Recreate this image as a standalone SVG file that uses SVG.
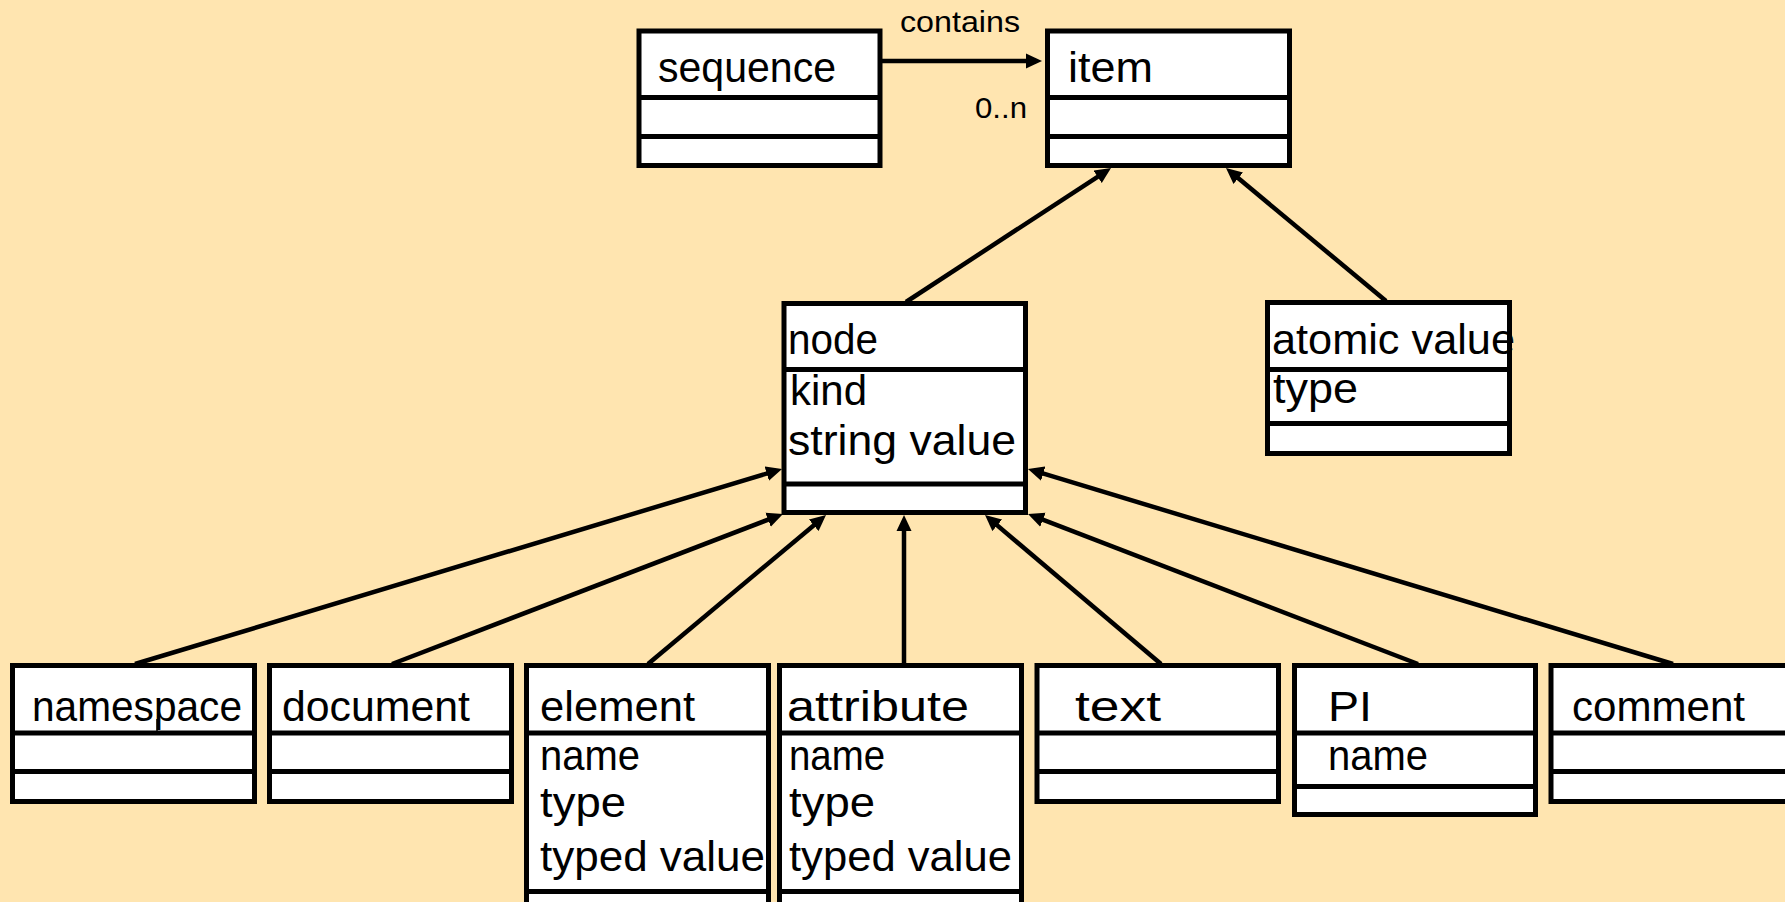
<svg xmlns="http://www.w3.org/2000/svg" width="1785" height="902" viewBox="0 0 1785 902">
<defs>
<style>
.box{fill:#fff;stroke:#000;stroke-width:5}
.div{stroke:#000;stroke-width:5}
.t{font-family:"Liberation Sans",Arial,sans-serif;font-size:43px;fill:#000}
.s{font-family:"Liberation Sans",Arial,sans-serif;font-size:30px;fill:#000}
.c{stroke:#000;stroke-width:4.5;fill:none;marker-end:url(#ah)}
</style>
<marker id="ah" markerUnits="userSpaceOnUse" markerWidth="16" markerHeight="16" refX="10" refY="7.5" orient="auto" viewBox="0 0 16 15">
<path d="M0,0 L16,7.5 L0,15 z" fill="#000"/>
</marker>
</defs>
<rect width="1785" height="902" fill="#FFE5B0"/>

<g id="sequence">
<rect class="box" x="639" y="31" width="241" height="134.5"/>
<line class="div" x1="639" y1="97.5" x2="880" y2="97.5"/>
<line class="div" x1="639" y1="136.5" x2="880" y2="136.5"/>
<text class="t" x="658" y="82" textLength="178" lengthAdjust="spacingAndGlyphs">sequence</text>
</g>

<g id="item">
<rect class="box" x="1047.5" y="31" width="242" height="134.5"/>
<line class="div" x1="1047.5" y1="97.5" x2="1289.5" y2="97.5"/>
<line class="div" x1="1047.5" y1="136.5" x2="1289.5" y2="136.5"/>
<text class="t" x="1068" y="82" textLength="85" lengthAdjust="spacingAndGlyphs">item</text>
</g>

<g id="node">
<rect class="box" x="784" y="303.5" width="241.5" height="209"/>
<line class="div" x1="784" y1="369.5" x2="1025.5" y2="369.5"/>
<line class="div" x1="784" y1="484" x2="1025.5" y2="484"/>
<text class="t" x="788" y="354" textLength="90" lengthAdjust="spacingAndGlyphs">node</text>
<text class="t" x="790" y="405" textLength="77" lengthAdjust="spacingAndGlyphs">kind</text>
<text class="t" x="788" y="455" textLength="228" lengthAdjust="spacingAndGlyphs">string value</text>
</g>

<g id="atomic-value">
<rect class="box" x="1267.5" y="302.5" width="242" height="151"/>
<line class="div" x1="1267.5" y1="369.5" x2="1509.5" y2="369.5"/>
<line class="div" x1="1267.5" y1="423.5" x2="1509.5" y2="423.5"/>
<text class="t" x="1272" y="354" textLength="243" lengthAdjust="spacingAndGlyphs">atomic value</text>
<text class="t" x="1273" y="403" textLength="85" lengthAdjust="spacingAndGlyphs">type</text>
</g>

<g id="namespace">
<rect class="box" x="12.5" y="665.5" width="242" height="136"/>
<line class="div" x1="12.5" y1="733" x2="254.5" y2="733"/>
<line class="div" x1="12.5" y1="771.5" x2="254.5" y2="771.5"/>
<line x1="157" y1="719" x2="157" y2="731" stroke="#000" stroke-width="1.5"/>
<text class="t" x="32" y="721" textLength="210" lengthAdjust="spacingAndGlyphs">namespace</text>
</g>

<g id="document">
<rect class="box" x="269.5" y="665.5" width="242" height="136"/>
<line class="div" x1="269.5" y1="733" x2="511.5" y2="733"/>
<line class="div" x1="269.5" y1="771.5" x2="511.5" y2="771.5"/>
<text class="t" x="282" y="721" textLength="188" lengthAdjust="spacingAndGlyphs">document</text>
</g>

<g id="element">
<rect class="box" x="526.5" y="665.5" width="242" height="260"/>
<line class="div" x1="526.5" y1="733" x2="768.5" y2="733"/>
<line class="div" x1="526.5" y1="891.5" x2="768.5" y2="891.5"/>
<text class="t" x="540" y="721" textLength="155" lengthAdjust="spacingAndGlyphs">element</text>
<text class="t" x="540" y="770" textLength="100" lengthAdjust="spacingAndGlyphs">name</text>
<text class="t" x="540" y="817" textLength="86" lengthAdjust="spacingAndGlyphs">type</text>
<text class="t" x="540" y="871" textLength="225" lengthAdjust="spacingAndGlyphs">typed value</text>
</g>

<g id="attribute">
<rect class="box" x="779.5" y="665.5" width="242" height="260"/>
<line class="div" x1="779.5" y1="733" x2="1021.5" y2="733"/>
<line class="div" x1="779.5" y1="891.5" x2="1021.5" y2="891.5"/>
<text class="t" x="787" y="721" textLength="182" lengthAdjust="spacingAndGlyphs">attribute</text>
<text class="t" x="789" y="770" textLength="96" lengthAdjust="spacingAndGlyphs">name</text>
<text class="t" x="789" y="817" textLength="86" lengthAdjust="spacingAndGlyphs">type</text>
<text class="t" x="789" y="871" textLength="223" lengthAdjust="spacingAndGlyphs">typed value</text>
</g>

<g id="text">
<rect class="box" x="1037" y="665.5" width="241.5" height="136"/>
<line class="div" x1="1037" y1="733" x2="1278.5" y2="733"/>
<line class="div" x1="1037" y1="771.5" x2="1278.5" y2="771.5"/>
<text class="t" x="1075" y="721" textLength="86" lengthAdjust="spacingAndGlyphs">text</text>
</g>

<g id="PI">
<rect class="box" x="1294.5" y="665.5" width="241" height="149"/>
<line class="div" x1="1294.5" y1="733" x2="1535.5" y2="733"/>
<line class="div" x1="1294.5" y1="786.5" x2="1535.5" y2="786.5"/>
<text class="t" x="1328" y="721" textLength="44" lengthAdjust="spacingAndGlyphs">PI</text>
<text class="t" x="1328" y="770" textLength="100" lengthAdjust="spacingAndGlyphs">name</text>
</g>

<g id="comment">
<rect class="box" x="1551" y="665.5" width="242" height="136"/>
<line class="div" x1="1551" y1="733" x2="1793" y2="733"/>
<line class="div" x1="1551" y1="771.5" x2="1793" y2="771.5"/>
<text class="t" x="1572" y="721" textLength="173" lengthAdjust="spacingAndGlyphs">comment</text>
</g>

<g id="connectors">
<line class="c" x1="882" y1="61" x2="1036" y2="61"/>
<text class="s" x="900" y="32" textLength="120" lengthAdjust="spacingAndGlyphs">contains</text>
<text class="s" x="975" y="118" textLength="52" lengthAdjust="spacingAndGlyphs">0..n</text>
<line class="c" x1="906" y1="302" x2="1106" y2="171.3"/>
<line class="c" x1="1386" y1="301" x2="1230.6" y2="171.8"/>
<line class="c" x1="135" y1="664" x2="776.3" y2="470.7"/>
<line class="c" x1="392" y1="664" x2="777.4" y2="516.1"/>
<line class="c" x1="648" y1="664" x2="821.4" y2="518.9"/>
<line class="c" x1="904" y1="664" x2="904" y2="521"/>
<line class="c" x1="1161" y1="664" x2="989.6" y2="518.9"/>
<line class="c" x1="1418" y1="664" x2="1033.6" y2="516.2"/>
<line class="c" x1="1673" y1="664" x2="1033.7" y2="470.7"/>
</g>
</svg>
